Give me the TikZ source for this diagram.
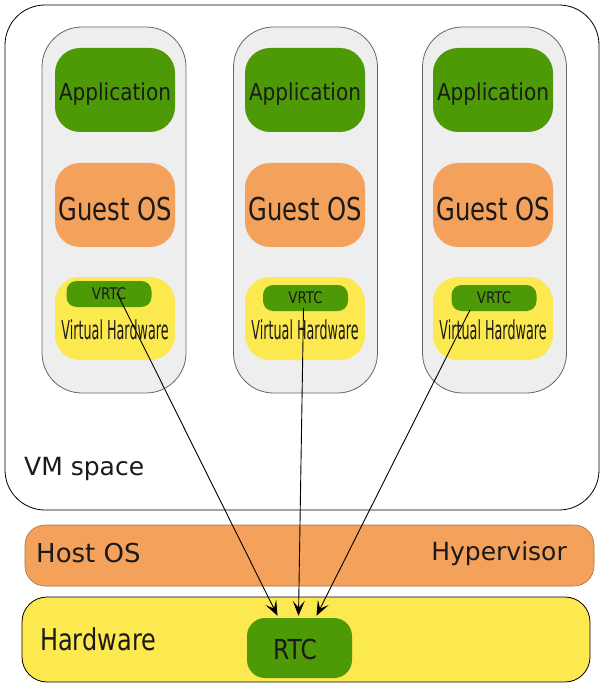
\documentclass[tikz,border=0pt]{standalone}
\usepackage{fontspec}
\setmainfont{DejaVu Sans}
\usetikzlibrary{arrows.meta,calc}
\definecolor{appgreen}{HTML}{4E9A06}
\definecolor{osorange}{HTML}{F4A25B}
\definecolor{hwyellow}{HTML}{FCE94F}
\definecolor{colgray}{HTML}{EEEEEE}
\definecolor{txt}{HTML}{1A1A1A}
\begin{document}
\begin{tikzpicture}[x=1pt,y=-1pt,
  vmspace/.style={draw=black, line width=0.8pt, fill=white, rounded corners=40pt},
  colbox/.style={draw=gray!80!black, line width=0.8pt, fill=colgray, rounded corners=40pt,
    minimum width=144pt, minimum height=366pt, inner sep=0pt},
  appbox/.style={fill=appgreen, rounded corners=25pt, minimum width=120pt, minimum height=84pt,
    inner sep=0pt},
  gosbox/.style={fill=osorange, rounded corners=25pt, minimum width=120pt, minimum height=84pt,
    inner sep=0pt},
  vhbox/.style={fill=hwyellow, rounded corners=25pt, minimum width=120pt, minimum height=83pt,
    inner sep=0pt},
  vrtcbox/.style={fill=appgreen, rounded corners=10pt, minimum width=85pt, minimum height=26pt,
    inner sep=0pt, text=txt, font=\fontsize{16}{16}\selectfont},
  lbl/.style={text=txt, inner sep=0pt},
  arr/.style={draw=black, line width=0.9pt, -{Stealth[length=15pt,width=12pt,inset=7pt]}}
]
\useasboundingbox (0,0) rectangle (601,684);

% VM space
\node[vmspace, minimum width=594pt, minimum height=505pt, inner sep=0pt] (vm) at (302,257.5) {};
\node[lbl, anchor=west, font=\fontsize{25}{25}\selectfont] (vmlabel) at (24,469) {VM space};

% columns
\foreach \i/\cx/\ix/\vx/\vy in {1/114/115/109/294, 2/305.5/305/305.5/298, 3/494.5/493/494/298}{
  \node[colbox] (c\i) at (\cx,210) {};
  \node[appbox] (a\i) at (\ix,90) {};
  \node[lbl, font=\fontsize{23.3}{23.3}\selectfont] (at\i) at (\ix,94) {\scalebox{0.86}[1]{Application}};
  \node[gosbox] (g\i) at (\ix,205) {};
  \node[lbl, font=\fontsize{31.5}{31.5}\selectfont] (gt\i) at (\ix,209) {\scalebox{0.77}[1]{Guest OS}};
  \node[vhbox] (h\i) at (\ix,318.5) {};
  \node[vrtcbox] (v\i) at (\vx,\vy) {\scalebox{0.84}[1]{VRTC}};
  \node[lbl, font=\fontsize{26}{26}\selectfont] (vh\i) at (\ix,330) {\scalebox{0.49}[1]{Virtual Hardware}};
}

% Host OS band
\node[fill=osorange, draw=osorange!70!black, line width=0.6pt, rounded corners=20pt, inner sep=0pt,
  minimum width=569pt, minimum height=61pt] (host) at (309.5,555.5) {};
\node[lbl, anchor=west, font=\fontsize{26}{26}\selectfont] (hostlabel) at (36,553) {Host OS};
\node[lbl, anchor=east, font=\fontsize{25}{25}\selectfont] (hyplabel) at (567,554) {Hypervisor};

% Hardware band
\node[fill=hwyellow, draw=black, line width=0.8pt, rounded corners=25pt, inner sep=0pt,
  minimum width=568pt, minimum height=85pt] (hw) at (306,639.5) {};
\node[lbl, font=\fontsize{30}{30}\selectfont, anchor=west] (hwlabel) at (40,639) {\scalebox{0.8}[1]{Hardware}};

% RTC
\node[fill=appgreen, rounded corners=18pt, minimum width=105pt, minimum height=60pt, inner sep=0pt] (rtc) at (299.5,648) {};
\node[lbl, font=\fontsize{27.5}{27.5}\selectfont] (rtct) at (295,649) {\scalebox{0.85}[1]{RTC}};

% arrows
\draw[arr] ($(v1.center)+(8,-1)$) -- ($(rtc.north)+(-22,-2)$);
\draw[arr] ($(v2.center)+(-2,10)$) -- ($(rtc.north)+(-1,-2)$);
\draw[arr] ($(v3.center)+(-24,12)$) -- ($(rtc.north)+(17,-2)$);
\end{tikzpicture}
\end{document}
